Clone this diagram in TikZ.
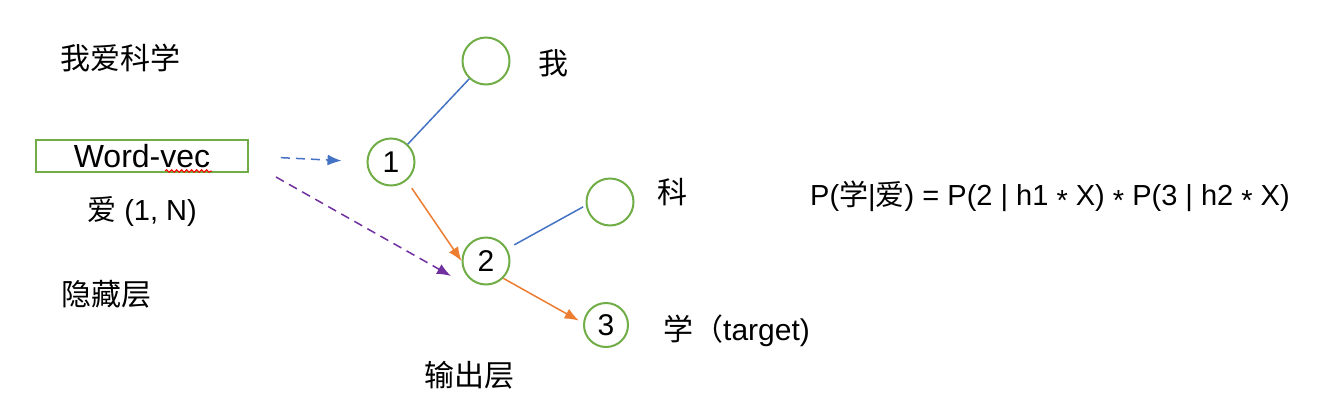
\documentclass[tikz,border=0pt]{standalone}
\usepackage{fontspec}
\setmainfont{Liberation Sans}
\newfontfamily\cjk{Noto Sans CJK SC}
\usepackage{xcolor}
\usepackage{tikz}
\usetikzlibrary{arrows.meta,positioning,calc,decorations.pathmorphing}
\definecolor{wgreen}{HTML}{70AD47}
\definecolor{wblue}{HTML}{4472C4}
\definecolor{worange}{HTML}{ED7D31}
\definecolor{wpurple}{HTML}{7030A0}
\newcommand{\mstar}{\raisebox{-0.35ex}{*}}
\tikzset{
  wpic/.style={x=1pt, y=-1pt, font=\fontsize{30}{36}\selectfont},
  w circ/.style={draw=wgreen, line width=2pt, circle, minimum size=47pt, inner sep=0pt},
  w box/.style={draw=wgreen, line width=2pt, minimum width=212pt, minimum height=32pt, inner sep=0pt,
                font=\fontsize{32}{36}\selectfont},
  w lab/.style={inner sep=0pt},
  w tree/.style={wblue, line width=1.5pt},
  w arr/.style={worange, line width=1.5pt, -{Latex[length=14pt, width=11pt]}},
  w dash/.style={line width=1.5pt, dash pattern=on 9pt off 6pt, -{Latex[length=14pt, width=11pt]}},
}
\begin{document}
\begin{tikzpicture}[wpic]
\useasboundingbox (0, 0) rectangle (1328, 418);
% ---- left column ----
\node[w lab] (sent) at (120, 58) {\cjk 我爱科学};
\node[w box] (wv) at (142, 156) {Word-vec};
\draw[red, line width=1pt, decorate, decoration={snake, amplitude=1.3pt, segment length=5pt}]
  (165, 171) -- (212, 171);
\node[w lab, font=\fontsize{29}{34}\selectfont] (inp) at (142, 212) {{\cjk 爱} (1, N)};
\node[w lab] (hid) at (106, 294) {\cjk 隐藏层};
\node[w lab] (outl) at (469, 375) {\cjk 输出层};
% ---- tree nodes ----
\node[w circ] (nw) at (486, 61) {};
\node[w circ] (n1) at (391, 162) {1};
\node[w circ] (nk) at (610, 202) {};
\node[w circ] (n2) at (486, 261) {2};
\node[w circ, minimum size=44pt] (n3) at (606, 325) {3};
\node[w lab] (lw) at (553, 63) {\cjk 我};
\node[w lab] (lk) at (672, 192) {\cjk 科};
\node[w lab, anchor=west] (lt) at (663, 331) {{\cjk 学（}target)};
% ---- formula ----
\node[w lab, anchor=west, font=\fontsize{29}{34}\selectfont] (eq) at (810, 196)
  {P({\cjk 学}|{\cjk 爱}) = P(2 | h1 \mstar{} X) \mstar{} P(3 | h2 \mstar{} X)};
% ---- connectors ----
\draw[w tree] (n1) -- (nw);
\draw[w tree, shorten <=8pt, shorten >=3pt] (n2.30) -- (nk.188);
\draw[w arr, shorten <=9pt] (n1.-50) -- (n2.west);
\draw[w arr, shorten >=5pt] (n2.-45) -- (n3.175);
\draw[w dash, wblue, shorten <=32pt, shorten >=25pt] (wv.east) -- (n1.west);
\coordinate (pa) at (276, 177);
\coordinate (pb) at (451, 276);
\draw[w dash, wpurple] (pa) -- (pb);
\end{tikzpicture}
\end{document}
